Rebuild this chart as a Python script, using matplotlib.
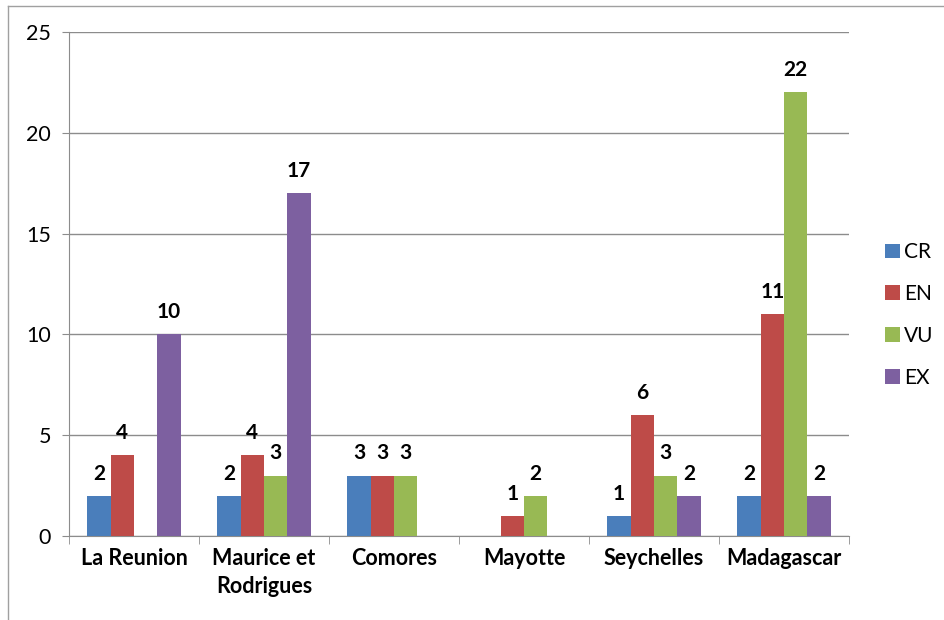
import matplotlib.pyplot as plt
import numpy as np
from matplotlib.lines import Line2D

plt.rcParams['font.family'] = ['Lato', 'DejaVu Sans']

pays = ['La Reunion', 'Maurice et\nRodrigues', 'Comores', 'Mayotte', 'Seychelles', 'Madagascar']
series = ['CR', 'EN', 'VU', 'EX']
CR = [2, 2, 3, np.nan, 1, 2]
EN = [4, 4, 3, 1, 6, 11]
VU = [np.nan, 3, 3, 2, 3, 22]
EX = [10, 17, np.nan, np.nan, 2, 2]
couleurs = ['#4a7ebb', '#be4b48', '#98b954', '#7d60a0']

fig = plt.figure(figsize=(9.44, 6.2), dpi=100)
ax = fig.add_axes([69 / 944, 0.1355, 780 / 944, 0.813])

x = np.arange(len(pays))
w = 0.18
for i, (nom, vals) in enumerate(zip(series, [CR, EN, VU, EX])):
    pos = x + (i - 1.5) * w
    ax.bar(pos, vals, w, color=couleurs[i], label=nom, zorder=3)
    for p, v in zip(pos, vals):
        if not np.isnan(v):
            ax.text(p, v + 0.6, '%d' % v, ha='center', va='bottom',
                    fontsize=15, fontweight='bold')

ax.set_xlim(-0.5, len(pays) - 0.5)
ax.set_ylim(0, 25)
ax.set_yticks(range(0, 26, 5))
ax.grid(axis='y', color='#8c8c8c', linewidth=1, zorder=0)
ax.set_xticks(x)
ax.set_xticklabels(pays, fontsize=15.5, fontweight='bold', linespacing=1.4)
ax.set_xticks(np.arange(-0.5, len(pays), 1), minor=True)
ax.tick_params(axis='x', which='major', length=0, pad=9)
ax.tick_params(axis='x', which='minor', length=6, color='#8c8c8c')
ax.tick_params(axis='y', length=5, color='#8c8c8c', labelsize=15.5, pad=8)
for s in ['top', 'right']:
    ax.spines[s].set_visible(False)
for s in ['left', 'bottom']:
    ax.spines[s].set_color('#8c8c8c')

leg = ax.legend(loc='center left', bbox_to_anchor=(0.918, 1 - 315 / 620), bbox_transform=fig.transFigure,
                frameon=False, fontsize=15, handlelength=0.7, handleheight=0.7,
                handletextpad=0.2, labelspacing=1.05)

fig.add_artist(Line2D([8 / 944, 1], [1 - 6 / 620, 1 - 6 / 620], transform=fig.transFigure,
                      color='#a0a0a0', linewidth=1.0))
fig.add_artist(Line2D([8 / 944, 8 / 944], [0, 1 - 6 / 620], transform=fig.transFigure,
                      color='#a0a0a0', linewidth=1.0))

plt.savefig('out.png', dpi=100)
